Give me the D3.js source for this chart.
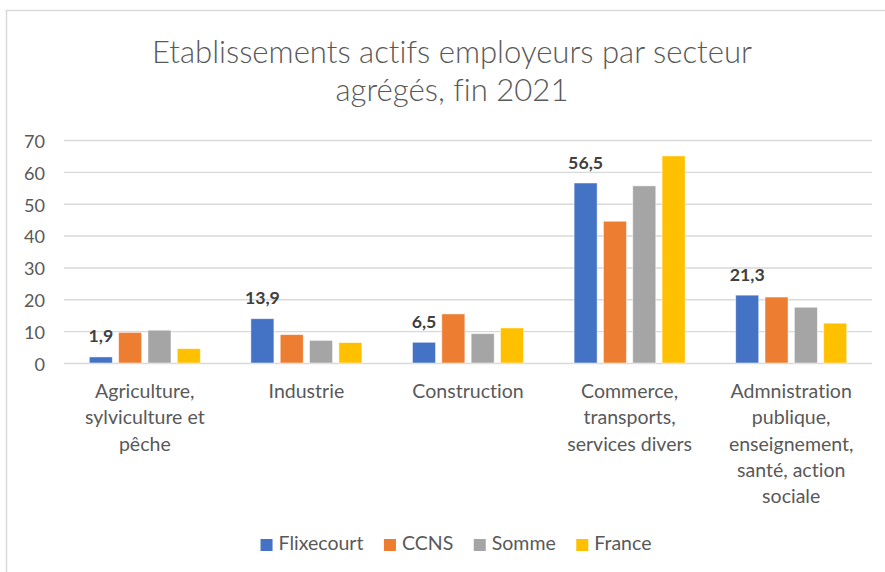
<!DOCTYPE html>
<html>
<head>
<meta charset="utf-8">
<script src="https://cdn.jsdelivr.net/npm/d3@7"></script>
<style>
  html, body { margin: 0; padding: 0; background: #ffffff; }
  svg { display: block; }
  text { font-family: Lato, "Open Sans", "Noto Sans", sans-serif; font-variant-ligatures: none; }
</style>
</head>
<body>
<svg id="chart" width="885" height="572"></svg>
<script>
// Sector categories (each entry is the wrapped label lines)
const categories = [
  ["Agriculture,", "sylviculture et", "pêche"],
  ["Industrie"],
  ["Construction"],
  ["Commerce,", "transports,", "services divers"],
  ["Admnistration", "publique,", "enseignement,", "santé, action", "sociale"]
];

// Series names
const seriesNames = ["Flixecourt", "CCNS", "Somme", "France"];

// Share of active employer establishments by sector (%), end of 2021
const flixecourt = [1.9, 13.9, 6.5, 56.5, 21.3];
const ccns       = [9.6, 8.9, 15.4, 44.5, 20.7];
const somme      = [10.3, 7.1, 9.2, 55.6, 17.5];
const france     = [4.5, 6.4, 11.0, 65.0, 12.5];

// Y-axis tick values
const yTicks = [0, 10, 20, 30, 40, 50, 60, 70];

const seriesColors = ["#4472C4", "#ED7D31", "#A5A5A5", "#FFC000"];
const titleLines = ["Etablissements actifs employeurs par secteur", "agrégés, fin 2021"];

const seriesValues = [flixecourt, ccns, somme, france];
const rows = categories.map((lines, i) => ({
  key: i,
  lines: lines,
  values: seriesNames.map((s, j) => ({ series: s, idx: j, value: seriesValues[j][i] }))
}));

const svg = d3.select("#chart");
const textGrey = "#595959";
const gridGrey = "#d9d9d9";

// Helper: pick a font size so that a sample string reaches a given width
function fitSize(sample, targetWidth, weight, baseSize) {
  const t = svg.append("text").attr("font-size", baseSize).attr("font-weight", weight).text(sample);
  const w = t.node().getComputedTextLength();
  t.remove();
  return baseSize * targetWidth / w;
}

// Chart frame (top and left edges)
svg.append("line").attr("x1", 6).attr("x2", 885).attr("y1", 10.5).attr("y2", 10.5)
  .attr("stroke", gridGrey).attr("stroke-width", 1.5);
svg.append("line").attr("x1", 6.5).attr("x2", 6.5).attr("y1", 10).attr("y2", 572)
  .attr("stroke", gridGrey).attr("stroke-width", 1.5);

// Plot area
const plot = { left: 64, right: 872, top: 140, bottom: 363 };

const y = d3.scaleLinear().domain([0, 70]).range([plot.bottom, plot.top]);

const x0 = d3.scaleBand()
  .domain(rows.map(d => d.key))
  .range([plot.left, plot.right])
  .paddingInner(0.313)
  .paddingOuter(0.1565);

const x1 = d3.scaleBand()
  .domain(seriesNames)
  .range([0, x0.bandwidth()])
  .paddingInner(0.215)
  .paddingOuter(0);

// Title (light weight)
const titleSize = fitSize(titleLines[0], 600, 300, 28);
svg.append("g").selectAll("text").data(titleLines).join("text")
  .attr("x", 452)
  .attr("y", (d, i) => 63 + i * 38)
  .attr("text-anchor", "middle")
  .attr("font-size", titleSize)
  .attr("font-weight", 300)
  .attr("fill", textGrey)
  .text(d => d);

// Gridlines and Y axis labels
const tickSize = fitSize("70", 21, 400, 18);
const yAxis = d3.axisLeft(y).tickValues(yTicks).tickSize(-(plot.right - plot.left)).tickPadding(19);
const gy = svg.append("g").attr("transform", `translate(${plot.left},0)`).call(yAxis);
gy.select(".domain").remove();
gy.selectAll(".tick line").attr("stroke", gridGrey).attr("stroke-width", 1.4);
gy.selectAll(".tick text")
  .attr("font-family", "Lato, 'Open Sans', sans-serif")
  .attr("font-size", tickSize)
  .attr("fill", textGrey)
  .attr("dy", null)
  .attr("y", 7.3);

// Bars
const groups = svg.append("g").selectAll("g").data(rows).join("g")
  .attr("transform", d => `translate(${x0(d.key)},0)`);

groups.selectAll("rect").data(d => d.values).join("rect")
  .attr("x", d => x1(d.series))
  .attr("y", d => y(d.value))
  .attr("width", x1.bandwidth())
  .attr("height", d => y(0) - y(d.value))
  .attr("fill", d => seriesColors[d.idx])
  .attr("stroke", "#ffffff")
  .attr("stroke-opacity", 0.6)
  .attr("stroke-width", 0.8);

// Data labels on the Flixecourt series
const labelSize = fitSize("13,9", 35, 700, 17);
groups.append("text")
  .attr("x", d => x1(seriesNames[0]) + x1.bandwidth() / 2)
  .attr("y", d => y(d.values[0].value) - 14.5)
  .attr("text-anchor", "middle")
  .attr("font-size", labelSize)
  .attr("font-weight", 700)
  .attr("fill", "#404040")
  .text(d => d3.format(".1f")(d.values[0].value).replace(".", ","));

// Category labels
const catSize = fitSize("Industrie", 75.7, 400, 18);
const catG = svg.append("g").selectAll("text").data(rows).join("text")
  .attr("text-anchor", "middle")
  .attr("font-size", catSize)
  .attr("fill", textGrey);
catG.selectAll("tspan").data(d => d.lines.map(l => ({ l, cx: x0(d.key) + x0.bandwidth() / 2 }))).join("tspan")
  .attr("x", d => d.cx)
  .attr("y", (d, i) => 398.3 + i * 26.1)
  .text(d => d.l);

// Legend
const legSize = fitSize("Flixecourt", 85, 400, 18);
const legG = svg.append("g");
const items = legG.selectAll("g").data(seriesNames).join("g");
items.append("rect").attr("width", 12).attr("height", 12).attr("y", 539)
  .attr("fill", (d, i) => seriesColors[i]);
items.append("text").attr("x", 18).attr("y", 550)
  .attr("font-size", legSize).attr("fill", textGrey).text(d => d);
let cursor = 0;
const offsets = [];
items.each(function () {
  offsets.push(cursor);
  const w = d3.select(this).select("text").node().getComputedTextLength();
  cursor += 18 + w + 20.5;
});
const legendWidth = cursor - 20.5;
const legendStart = 456 - legendWidth / 2;
items.attr("transform", (d, i) => `translate(${legendStart + offsets[i]},0)`);
</script>
</body>
</html>
